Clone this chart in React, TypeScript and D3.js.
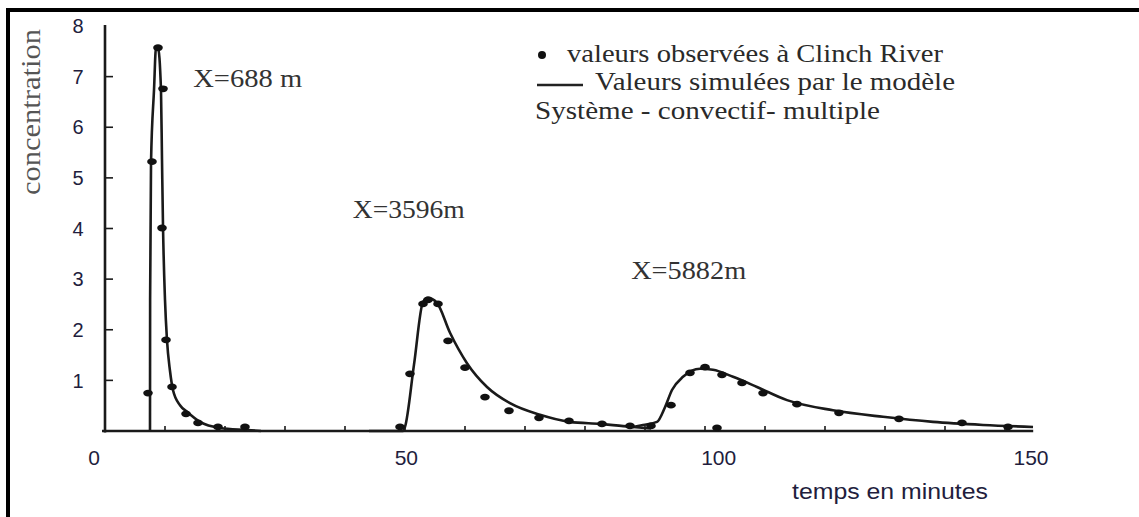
import React from "react";
import * as d3 from "d3";

// ---- data (time in minutes, concentration) ----
const sim1T = [7.5, 7.52, 7.67, 8.17, 8.5, 8.83, 9.33, 9.5, 9.67, 10.0, 10.33, 10.83, 11.33, 12.5, 13.67, 15.83, 19.17, 23.67, 26.0];
const sim1C = [0, 2.59, 5.3, 6.74, 7.57, 7.57, 6.74, 5.36, 4.03, 2.59, 1.8, 1.19, 0.81, 0.51, 0.38, 0.18, 0.06, 0.02, 0];
const sim2T = [44, 49.67, 50.0, 51.5, 53.0, 53.83, 55.33, 57.5, 60.33, 63.67, 67.5, 72.5, 77.5, 82.5, 88.0, 91.0];
const sim2C = [0, 0, 0.08, 1.31, 2.55, 2.63, 2.53, 1.94, 1.34, 0.87, 0.55, 0.32, 0.18, 0.14, 0.08, 0.05];
const sim3T = [88, 89.67, 92, 93.33, 94.5, 96.33, 99.17, 101.33, 104.67, 108.67, 113.67, 121.33, 129.67, 138, 146.33, 154.67];
const sim3C = [0.08, 0.12, 0.18, 0.47, 0.81, 1.07, 1.23, 1.21, 1.07, 0.87, 0.61, 0.41, 0.28, 0.18, 0.12, 0.08];

const obs1T = [7.17, 7.83, 8.83, 9.67, 9.5, 10.17, 11.17, 13.5, 15.5, 18.83, 23.33];
const obs1C = [0.75, 5.32, 7.57, 6.76, 4.01, 1.8, 0.87, 0.34, 0.16, 0.08, 0.08];
const obs2T = [49.17, 50.83, 53.0, 53.83, 55.5, 57.17, 60.0, 63.33, 67.33, 72.33, 77.33, 82.83, 87.5, 91.0];
const obs2C = [0.08, 1.13, 2.51, 2.59, 2.51, 1.78, 1.25, 0.67, 0.4, 0.26, 0.2, 0.14, 0.1, 0.1];
const obs3T = [94.33, 97.5, 100, 102.83, 106.17, 109.67, 115.33, 122.33, 132.33, 142.83, 150.5, 102];
const obs3C = [0.51, 1.15, 1.26, 1.11, 0.95, 0.75, 0.53, 0.36, 0.24, 0.16, 0.08, 0.06];

const yTickValues = [1, 2, 3, 4, 5, 6, 7];
const yLabelValues = [1, 2, 3, 4, 5, 6, 7, 8];
const xTickValues = d3.range(10, 151, 10);
const xLabelValues = [0, 50, 100, 150];

const peakLabels = ["X=688 m", "X=3596m", "X=5882m"];
const peakLabelT = [14.7, 41.3, 87.7];
const peakLabelC = [6.8, 4.2, 3.0];

const legendLines = [
  "valeurs observées à Clinch River",
  "Valeurs simulées par le modèle",
  "Système - convectif- multiple",
];

export default function App() {
  const W = 1139, H = 517;
  const x = d3.scaleLinear().domain([0, 150]).range([105, 1005]);
  const xLab = d3.scaleLinear().domain([0, 150]).range([94, 1031]);
  const y = d3.scaleLinear().domain([0, 8]).range([431, 26]);

  const line = d3
    .line<[number, number]>()
    .x((d) => x(d[0]))
    .y((d) => y(d[1]))
    .curve(d3.curveMonotoneX);

  const sims = [
    d3.zip(sim1T, sim1C) as [number, number][],
    d3.zip(sim2T, sim2C) as [number, number][],
    d3.zip(sim3T, sim3C) as [number, number][],
  ];
  const obs = [
    ...(d3.zip(obs1T, obs1C) as [number, number][]),
    ...(d3.zip(obs2T, obs2C) as [number, number][]),
    ...(d3.zip(obs3T, obs3C) as [number, number][]),
  ];

  const serif = "'Liberation Serif', 'Times New Roman', serif";
  const sans = "'Liberation Sans', Arial, sans-serif";
  const ink = "#1a1a1a";
  const labelInk = "#221d3d";

  return (
    <svg
      width={W}
      height={H}
      style={{ position: "absolute", left: 0, top: 0, background: "#fff" }}
    >
      <rect x={0} y={0} width={W} height={H} fill="#fff" />
      {/* frame */}
      <rect x={8} y={10} width={W + 40} height={H + 40} fill="none" stroke="#000" strokeWidth={4} />

      {/* axes */}
      <line x1={x(0)} x2={x(0)} y1={y(8.02)} y2={y(-0.03)} stroke={ink} strokeWidth={2.6} />
      <line x1={x(-0.5)} x2={x(154.7)} y1={y(0)} y2={y(0)} stroke={ink} strokeWidth={2.6} />
      {yTickValues.map((v) => (
        <line key={"yt" + v} x1={x(0)} x2={x(0) + 8} y1={y(v)} y2={y(v)} stroke={ink} strokeWidth={1.6} />
      ))}
      {xTickValues.map((t) => (
        <line key={"xt" + t} x1={x(t)} x2={x(t)} y1={y(0)} y2={y(0) - 5} stroke={ink} strokeWidth={1.6} />
      ))}

      {/* tick labels */}
      {yLabelValues.map((v) => (
        <text
          key={"yl" + v}
          x={78}
          y={y(v)}
          dy="0.36em"
          textAnchor="middle"
          fontFamily={sans}
          fontSize={20}
          fill={labelInk}
        >
          {v}
        </text>
      ))}
      {xLabelValues.map((t) => (
        <text
          key={"xl" + t}
          x={xLab(t)}
          y={465}
          textAnchor="middle"
          fontFamily={sans}
          fontSize={21}
          fill={labelInk}
        >
          {t}
        </text>
      ))}

      {/* axis titles */}
      <text
        transform="translate(40,112) rotate(-90)"
        textAnchor="middle"
        fontFamily={serif}
        fontSize={27}
        fill="#555"
        textLength={166}
        lengthAdjust="spacingAndGlyphs"
      >
        concentration
      </text>
      <text
        x={792}
        y={499}
        fontFamily={sans}
        fontSize={22}
        fill={labelInk}
        textLength={196}
        lengthAdjust="spacingAndGlyphs"
      >
        temps en minutes
      </text>

      {/* simulated curves */}
      {sims.map((s, i) => (
        <path key={"s" + i} d={line(s) ?? ""} fill="none" stroke={ink} strokeWidth={2.6} strokeLinejoin="round" />
      ))}

      {/* observed points */}
      {obs.map((d, i) => (
        <ellipse key={"o" + i} cx={x(d[0])} cy={y(d[1])} rx={4.8} ry={3.4} fill="#111" />
      ))}

      {/* peak labels */}
      {peakLabels.map((s, i) => (
        <text
          key={"pl" + i}
          x={x(peakLabelT[i])}
          y={y(peakLabelC[i])}
          fontFamily={serif}
          fontSize={25}
          fill="#333"
          textLength={[109, 112, 115][i]}
          lengthAdjust="spacingAndGlyphs"
        >
          {s}
        </text>
      ))}

      {/* legend */}
      <ellipse cx={542} cy={55} rx={4} ry={4} fill="#111" />
      <text x={567} y={62} fontFamily={serif} fontSize={25} fill="#2a2a2a" textLength={376} lengthAdjust="spacingAndGlyphs">
        {legendLines[0]}
      </text>
      <line x1={537} x2={583} y1={85} y2={85} stroke="#222" strokeWidth={2.4} />
      <text x={595} y={90} fontFamily={serif} fontSize={25} fill="#2a2a2a" textLength={360} lengthAdjust="spacingAndGlyphs">
        {legendLines[1]}
      </text>
      <text x={535} y={119} fontFamily={serif} fontSize={25} fill="#2a2a2a" textLength={345} lengthAdjust="spacingAndGlyphs">
        {legendLines[2]}
      </text>
    </svg>
  );
}
